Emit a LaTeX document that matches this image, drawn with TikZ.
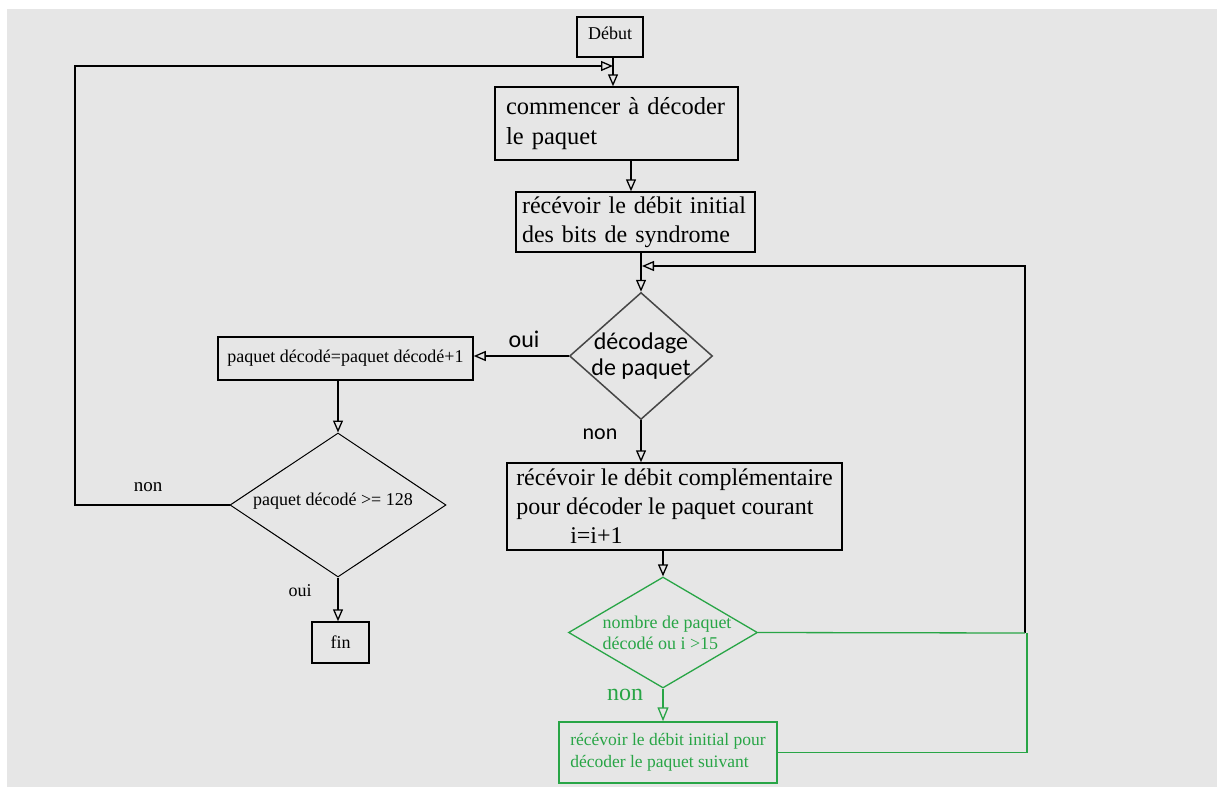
\documentclass[tikz,border=0pt]{standalone}
\usepackage{fontspec}
\setmainfont{Liberation Serif}
\newfontfamily\sansf{Carlito}
\usetikzlibrary{arrows.meta,shapes.geometric}
\definecolor{bg}{RGB}{230,230,230}
\definecolor{gr}{RGB}{40,165,70}
\definecolor{dg}{RGB}{70,70,70}
\tikzset{
  box/.style={draw, line width=1.5pt, inner sep=0pt, align=left},
  arr/.style={line width=1.3pt, -{Triangle[open,length=12pt,width=10pt]}},
  garr/.style={line width=1.3pt, draw=gr, -{Triangle[open,length=14pt,width=11pt]}},
  gline/.style={line width=1.3pt, draw=gr},
  dia/.style={draw, diamond, inner sep=0pt},
  big/.style={font=\fontsize{24.5}{29.5}\selectfont},
  med/.style={font=\fontsize{18}{22}\selectfont},
}
\begin{document}
\begin{tikzpicture}[x=1pt,y=-1pt]
\useasboundingbox (0,0) rectangle (1217,787);
\fill[bg] (7,9) rectangle (1217,787);

% nodes
\node[box, med, minimum width=66pt, minimum height=40pt, anchor=center] (debut) at (610,37) {\raisebox{7pt}{Début}};
\node[box, big, minimum width=243pt, minimum height=73pt, text width=221pt] (commencer) at (616.5,123.5) {commencer à décoder\\le paquet};
\node[box, font=\fontsize{24}{29}\selectfont, minimum width=239pt, minimum height=60pt, text width=227pt] (recevoir) at (635.5,222) {récévoir le débit initial\\des bits de syndrome};
\node[dia, draw=dg, line width=1.5pt, minimum width=143pt, minimum height=127pt,
  label={[font=\sansf\fontsize{24}{26}\selectfont, align=center]center:décodage\\de paquet}] (decodage) at (641,356) {};
\node[box, med, minimum width=255pt, minimum height=43pt, align=center] (plus) at (345.5,358.5) {paquet décodé=paquet décodé+1};
\node[dia, line width=1pt, minimum width=216pt, minimum height=144pt,
  label={[med, xshift=-5pt, yshift=4pt]center:paquet décodé >= 128}] (test) at (338,505) {};
\node[box, med, minimum width=57pt, minimum height=41pt, align=center] (fin) at (340.5,642.5) {fin};
\node[box, font=\fontsize{24}{29}\selectfont, minimum width=335pt, minimum height=87pt] (compl) at (674.5,506.5) {récévoir le débit complémentaire\\pour décoder le paquet courant\\\hspace*{54pt}i=i+1};
\node[dia, draw=gr, line width=1.3pt, minimum width=189pt, minimum height=111pt,
  label={[text=gr, font=\fontsize{18}{21}\selectfont, align=left, xshift=4pt]center:nombre de paquet\\décodé ou i >15}] (gdia) at (663,632.5) {};
\node[box, draw=gr, text=gr, font=\fontsize{17.5}{22}\selectfont, minimum width=218pt, minimum height=61pt] (gbox) at (668,752.5) {récévoir le débit initial pour\\décoder le paquet suivant};

% labels
\node[font=\sansf\fontsize{24}{26}\selectfont] (l1) at (524,339) {oui};
\node[font=\sansf\fontsize{22}{24}\selectfont] (l2) at (600,434) {non};
\node[font=\fontsize{19}{22}\selectfont] (l3) at (148,487) {non};
\node[med] (l4) at (300,591) {oui};
\node[text=gr, font=\fontsize{24}{26}\selectfont] (l5) at (625,695) {non};

% coordinates
\coordinate (j1) at (613,66);
\coordinate (lc) at (75,66);
\coordinate (j2) at (631,0);
\coordinate (j3) at (642,266);
\coordinate (r1) at (1025,266);
\coordinate (jr) at (1025,633);
\coordinate (jg) at (1027,633);

% connectors
\draw[arr] (debut.south -| j1) -- (commencer.north -| j1);
\draw[arr] (test.west) -| (lc) -- (j1);
\draw[arr] (commencer.south -| j2) -- (recevoir.north -| j2);
\draw[arr] (recevoir.south -| decodage.north) -- (decodage.north);
\draw[arr] (jr) -- (r1) -- (j3);
\draw[arr] (decodage.west) -- (decodage.west -| plus.east);
\draw[arr] (decodage.south) -- (decodage.south |- compl.north);
\draw[arr] (compl.south -| gdia.north) -- (gdia.north);
\draw[garr] (gdia.south) -- (gdia.south |- gbox.north);
\draw[gline] (gdia.east) -- (jr);
\draw[gline] (gbox.east) -| (jg);
\draw[arr] (plus.south -| test.north) -- (test.north);
\draw[arr] (test.south) -- (test.south |- fin.north);
\end{tikzpicture}
\end{document}
